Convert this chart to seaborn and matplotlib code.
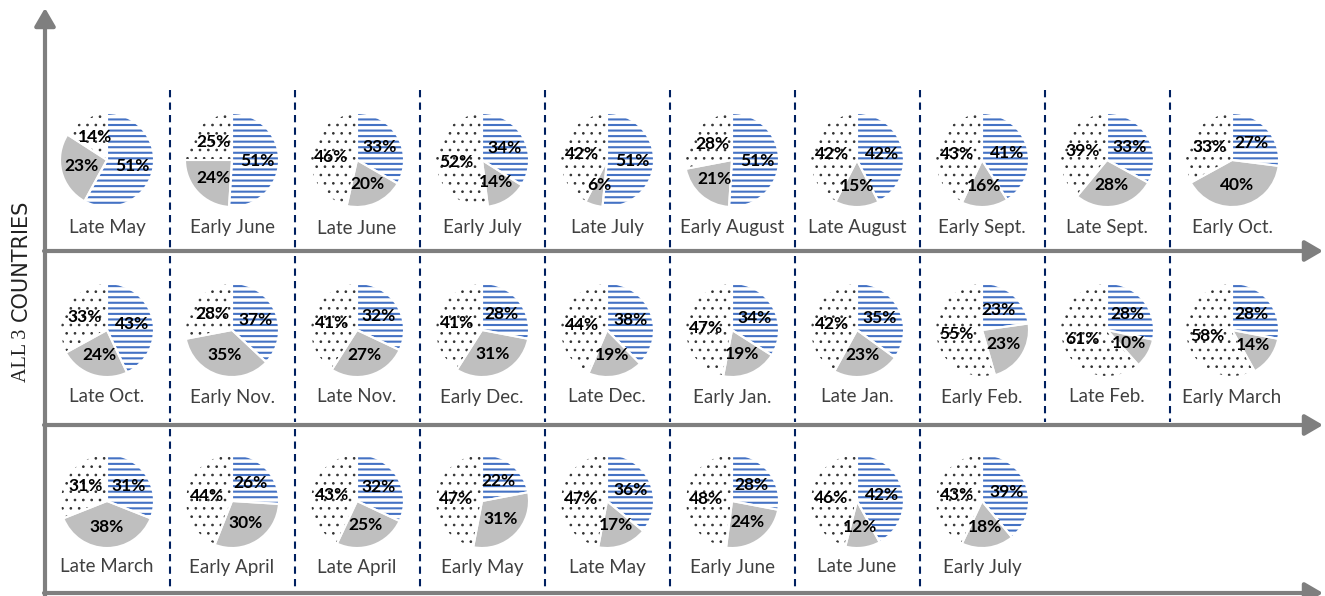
import matplotlib.pyplot as plt
import seaborn as sns

# period labels and the three shares shown in each pie (striped, grey, dotted)
periods = ["Late May", "Early June", "Late June", "Early July", "Late July",
           "Early August", "Late August", "Early Sept.", "Late Sept.", "Early Oct.",
           "Late Oct.", "Early Nov.", "Late Nov.", "Early Dec.", "Late Dec.",
           "Early Jan.", "Late Jan.", "Early Feb.", "Late Feb.", "Early March",
           "Late March", "Early April", "Late April", "Early May", "Late May",
           "Early June", "Late June", "Early July"]
striped = [51, 51, 33, 34, 51, 51, 42, 41, 33, 27,
           43, 37, 32, 28, 38, 34, 35, 23, 28, 28,
           31, 26, 32, 22, 36, 28, 42, 39]
solid = [23, 24, 20, 14, 6, 21, 15, 16, 28, 40,
         24, 35, 27, 31, 19, 19, 23, 23, 10, 14,
         38, 30, 25, 31, 17, 24, 12, 18]
dotted = [14, 25, 46, 52, 42, 28, 42, 43, 39, 33,
          33, 28, 41, 41, 44, 47, 42, 55, 61, 58,
          31, 44, 43, 47, 47, 48, 46, 43]

sns.set_theme(style="white")
plt.rcParams['font.family'] = ['Lato', 'DejaVu Sans']
plt.rcParams['hatch.linewidth'] = 1.5

W, H = 1325, 596
PER_ROW = 10
X0, DX = 107, 125
R = 47
pie_y = [160, 330, 501]
lab_y = [228, 397, 567]
axis_y = [251, 425, 593]
dash_y = [(90, 249), (256, 422), (429, 590)]

BLUE = '#4472C4'
GREY = '#BFBFBF'
NAVY = '#002060'
AXIS = '#7F7F7F'

fig = plt.figure(figsize=(W / 100, H / 100), dpi=100)
ax = fig.add_axes([0, 0, 1, 1])

for i, name in enumerate(periods):
    r, c = divmod(i, PER_ROW)
    cx = X0 + c * DX
    cy = H - pie_y[r]
    vals = [striped[i], solid[i], dotted[i]]
    it = iter(vals)
    wedges, _, autotexts = ax.pie(
        vals, center=(cx, cy), radius=R, startangle=90, counterclock=False,
        colors=['white', GREY, 'white'], hatch=['---', None, '..'],
        autopct=lambda p, it=it: f"{next(it)}%", pctdistance=0.55,
        wedgeprops=dict(linewidth=0),
        textprops=dict(fontsize=12.5, fontweight='bold', color='black'))
    for w, ec in zip(wedges, [BLUE, GREY, '#333333']):
        w.set_edgecolor(ec)
    if hasattr(wedges[2], 'set_hatch_linewidth'):
        wedges[2].set_hatch_linewidth(0.7)
    # white separators between slices
    ax.pie(vals, center=(cx, cy), radius=R, startangle=90, counterclock=False,
           colors=['none'] * 3,
           wedgeprops=dict(edgecolor='white', linewidth=1.5))
    for t in autotexts:
        t.set_zorder(5)
    ax.text(cx, H - lab_y[r], name, ha='center', va='center',
            fontsize=13.5, color='#404040')

# dashed separators between periods
n_rows = (len(periods) + PER_ROW - 1) // PER_ROW
for r in range(n_rows):
    n_here = min(PER_ROW, len(periods) - r * PER_ROW)
    y1, y2 = dash_y[r]
    for k in range(n_here - 1):
        x = X0 + DX / 2 + k * DX
        ax.plot([x, x], [H - y1, H - y2], color=NAVY, lw=1.5,
                ls=(0, (3.5, 2.5)))

# axis arrows
arrow = dict(arrowstyle='-|>,head_length=0.6,head_width=0.35', color=AXIS,
             lw=3, shrinkA=0, shrinkB=0, mutation_scale=18)
ax.annotate("", xy=(45, H - 8), xytext=(45, 0), arrowprops=arrow)
for ya in axis_y:
    ax.annotate("", xy=(1323, H - ya), xytext=(44, H - ya), arrowprops=arrow)

ax.text(21, H - 382, "ALL 3", rotation=90, ha='center', va='bottom',
        fontsize=14.5, family=['Liberation Serif'], color='#222222')
ax.text(21, H - 321, "COUNTRIES", rotation=90, ha='center', va='bottom',
        fontsize=15, family=['DejaVu Sans'], color='#222222')

ax.set_xlim(0, W)
ax.set_ylim(0, H)
ax.set_aspect('auto')
ax.axis('off')

plt.savefig("out.png", dpi=100)
